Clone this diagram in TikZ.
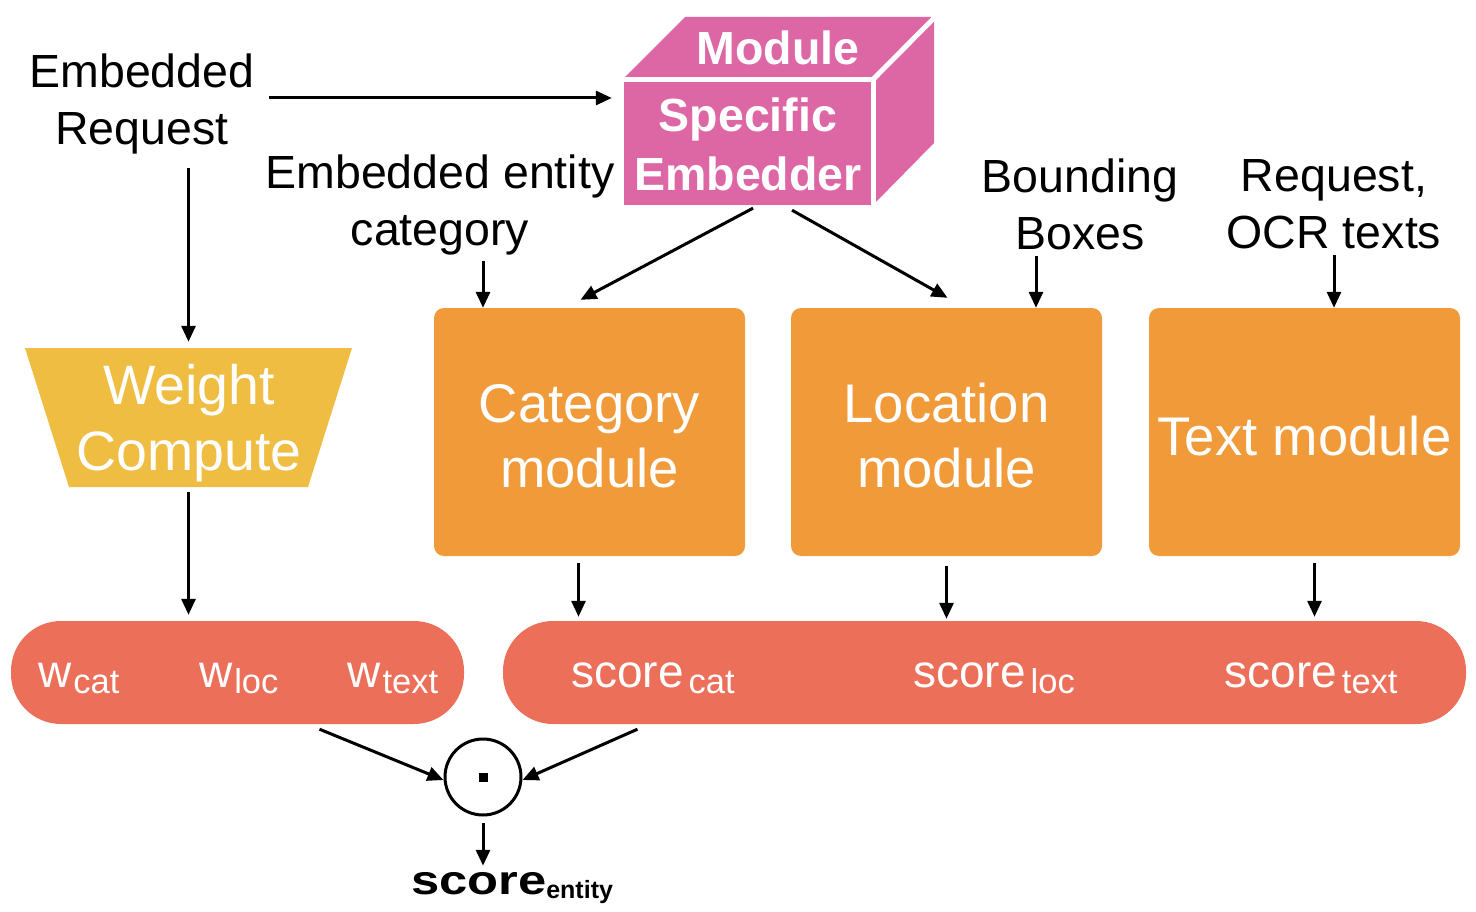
\documentclass[tikz,border=0pt]{standalone}
\usepackage{fontspec}
\setmainfont{Liberation Sans}
\usetikzlibrary{arrows.meta,calc}
\definecolor{cpink}{HTML}{DD67A5}
\definecolor{cyellow}{HTML}{EFBD42}
\definecolor{corange}{HTML}{F09A39}
\definecolor{cred}{HTML}{EC6F5A}
\newcommand{\fs}[2]{\fontsize{#1}{#2}\selectfont}
\newcommand{\subtx}[2]{\hspace{#1}\raisebox{-6pt}{\fs{34.5}{34}#2}}
\tikzset{
  arr/.style={line width=3pt,-{Triangle[length=16pt,width=14pt]}},
  lbl/.style={align=center,font=\fs{46.5}{57},text=black,inner sep=0pt},
  modbox/.style={fill=corange,rounded corners=10pt,minimum width=311pt,minimum height=248pt,inner sep=0pt},
  modtext/.style={align=center,text=white,font=\fs{54.5}{65},inner sep=0pt},
  pill/.style={fill=cred,rounded corners=50pt,minimum height=103pt,inner sep=0pt},
  bartext/.style={text=white,font=\fs{46}{46},anchor=base,inner sep=0pt},
}
\begin{document}
\begin{tikzpicture}[x=1pt,y=-1pt]
\useasboundingbox (0,0) rectangle (1476,912);
% labels
\node[lbl] (req) at (142,104) {Embedded\\Request};
\node[lbl] (ecat) at (440,205) {Embedded entity\\category};
\node[lbl] (bb) at (1080,204) {Bounding\\Boxes};
\node[lbl] (ocr) at (1334,204) {Request,\\OCR texts};
% cube
\node[minimum width=248pt,minimum height=124pt,inner sep=0pt] (emb) at (748,143) {};
\fill[cpink] (624,205) -- (624,78) -- (685,17) -- (934,17) -- (934,143) -- (873,205) -- cycle;
\draw[white,line width=5pt] (620,79.5) -- (873,79.5) -- (873,210);
\draw[white,line width=5pt] (873,79.5) -- (937,15);
\node[text=white,font=\bfseries\fs{46.5}{46},inner sep=0pt] (modl) at (778,48) {Module};
\node[text=white,font=\bfseries\fs{46.5}{59},align=center,inner sep=0pt] (spec) at (748,144) {Specific\\Embedder};
% weight compute
\node[minimum width=327pt,minimum height=139pt,inner sep=0pt] (wcbox) at (188.5,417.5) {};
\fill[cyellow] (25,348) -- (352,348) -- (308,487) -- (69,487) -- cycle;
\node[text=white,font=\fs{55.5}{66},align=center,inner sep=0pt] (wcn) at (189,423) {Weight\\Compute};
% modules
\node[modbox] (cat) at (589.5,432) {};
\node[modbox] (loc) at (946.5,432) {};
\node[modbox] (txt) at (1304.5,432) {};
\node[modtext] (catt) at ([yshift=-4pt]cat.center) {Category\\module};
\node[modtext] (loct) at ([yshift=-4pt]loc.center) {Location\\module};
\node[modtext] (txtt) at ([yshift=-4pt]txt.center) {Text module};
% bars
\node[pill,minimum width=453pt] (wbar) at (237.5,672.5) {};
\node[pill,minimum width=963pt] (sbar) at (984.5,672.5) {};
\node[bartext] (w1) at (79,687) {w\subtx{1.5pt}{cat}};
\node[bartext] (w2) at (239,687) {w\subtx{1.5pt}{loc}};
\node[bartext] (w3) at (393,687) {w\subtx{1.5pt}{text}};
\node[bartext] (s1) at (653,687) {score\subtx{5pt}{cat}};
\node[bartext] (s2) at (994,687) {score\subtx{5pt}{loc}};
\node[bartext] (s3) at (1311,687) {score\subtx{5pt}{text}};
% dot product
\node[draw,line width=3pt,circle,minimum size=76pt,inner sep=0pt] (dot) at (483,777) {};
\fill (dot.center) ++(-4.5,-4.5) rectangle ++(9,9);
\node[anchor=base,inner sep=0pt,font=\bfseries] (sent) at (512,894) {\scalebox{1.3}[1.05]{\fs{39}{39}score}\raisebox{-4pt}{\fs{25}{25}entity}};
% arrows
\draw[arr,shorten >=12pt] ([xshift=14pt,yshift=6pt]req.east) -- ([yshift=6pt]req.east -| emb.west);
\draw[arr,shorten <=14pt,shorten >=6pt] (wcbox.north |- req.south) -- (wcbox.north);
\draw[arr] ([xshift=5pt,yshift=-3pt]emb.south) -- ([xshift=-9pt,yshift=8pt]cat.north);
\draw[arr] ([xshift=44pt,yshift=-5pt]emb.south) -- ([xshift=1pt,yshift=10pt]loc.north);
\draw[arr] ([xshift=43pt,yshift=-6pt]ecat.south) -- ([xshift=43pt]ecat.south |- cat.north);
\draw[arr] ([xshift=-44pt,yshift=-6pt]bb.south) -- ([xshift=-44pt]bb.south |- loc.north);
\draw[arr] ([yshift=-6pt]ocr.south) -- (ocr.south |- txt.north);
\draw[arr,shorten <=5pt,shorten >=6pt] (wcbox.south) -- (wcbox.south |- wbar.north);
\draw[arr,shorten <=7pt,shorten >=4pt] ([xshift=-11pt]cat.south) -- ([xshift=-11pt]cat.south |- sbar.north);
\draw[arr,shorten <=10pt,shorten >=2pt] (loc.south) -- (loc.south |- sbar.north);
\draw[arr,shorten <=7pt,shorten >=4pt] ([xshift=10pt]txt.south) -- ([xshift=10pt]txt.south |- sbar.north);
\draw[arr] ([xshift=82pt,yshift=-5pt]wbar.south) -- ([yshift=-3pt]dot.west);
\draw[arr] ([xshift=-347pt,yshift=-5pt]sbar.south) -- ([yshift=-3pt]dot.east);
\draw[arr,shorten <=6pt,shorten >=6pt] (dot.south) -- (dot.south |- sent.north);
\end{tikzpicture}
\end{document}
